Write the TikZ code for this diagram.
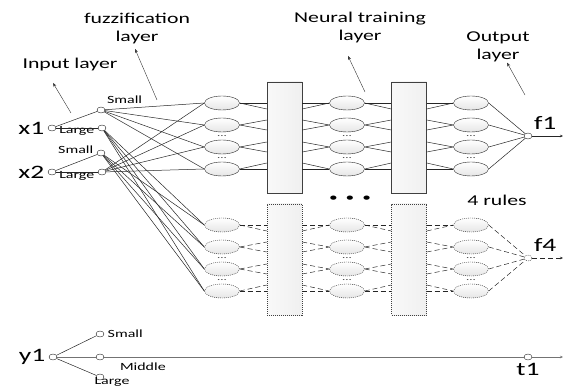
\documentclass[tikz,border=0pt]{standalone}
\usepackage{fontspec}
\setmainfont[FakeStretch=1.45]{Carlito}
\usetikzlibrary{arrows.meta,positioning,calc,shapes.geometric}

\begin{document}
\begin{tikzpicture}[
  x=1pt, y=-1pt,
  mfnode/.style={ellipse, draw=black!85, fill=white, inner sep=0pt,
    minimum width=8pt, minimum height=6pt},
  neuron/.style={ellipse, draw=black!85, top color=white, bottom color=gray!20,
    inner sep=0pt, minimum width=35pt, minimum height=14pt},
  blk/.style={draw=black!75, left color=gray!5, right color=gray!12,
    inner sep=0pt, minimum width=35pt, minimum height=111pt},
  lnk/.style={draw=black!85, line width=0.5pt},
  dsh/.style={dash pattern=on 5pt off 3pt},
  dtt/.style={dash pattern=on 1pt off 1pt},
  ann/.style={-{Stealth[length=4pt,width=3pt]}, draw=black!80},
  io/.style={font=\fontsize{19}{20}\selectfont},
  lay/.style={font=\fontsize{15}{18}\selectfont, align=center},
  mf/.style={font=\fontsize{11}{12}\selectfont},
  dd/.style={font=\fontsize{9}{9}\selectfont, text=black!70, inner sep=0pt},
]
\useasboundingbox (0,0) rectangle (565,390);

% layer captions
\node[lay] (inlay) at (70,65) {Input layer};
\node[lay] (fzlay) at (137,29) {fuzzification\\layer};
\node[lay] (nnlay) at (360,28) {Neural training\\layer};
\node[lay] (outlay) at (498,47) {Output\\layer};
\coordinate (inarr) at (71,113);
\coordinate (fzarr) at (157,100);
\coordinate (nnarr) at (365,92);
\coordinate (outarr) at (525,95);
\draw[ann] (inarr) -- ($(inlay.south)+(-17,8)$);
\draw[ann] (fzarr) -- ($(fzlay.south)+(-2,1)$);
\draw[ann] (nnarr) -- ($(nnlay.south)+(-12,9)$);
\draw[ann] (outarr) -- ($(outlay.south)+(9,-3)$);

% inputs and membership functions
\node[mfnode, label={[io]left:x1}] (x1) at (52,128) {};
\node[mfnode, label={[io]left:x2}] (x2) at (52,172) {};
\node[mfnode, label={[mf]above right:Small}] (s1) at (101,110) {};
\node[mfnode, label={[mf, yshift=-3pt]left:Large}] (l1) at (102,128) {};
\node[mfnode, label={[mf, yshift=3pt]left:Small}] (s2) at (101,153) {};
\node[mfnode, label={[mf, yshift=-4pt]left:Large}] (l2) at (102,172) {};
\draw[lnk] (x1) -- (s1);
\draw[lnk] (x1) -- (l1);
\draw[lnk] (x2) -- (s2);
\draw[lnk] (x2) -- (l2);

% one sub-network per rule (first and last shown)
\foreach \blk/\yo/\lsty/\bsty/\fout in {t/0/solid/solid/f1, b/122/dsh/dtt/f4}{
  \node[blk, \bsty] (r1\blk) at (284.5,137.5+\yo) {};
  \node[blk, \bsty] (r2\blk) at (409,137.5+\yo) {};
  \node[mfnode, \bsty, label={[io]above right:\fout}] (o\blk) at (528,136+\yo) {};
  \coordinate (e\blk) at (563,136+\yo);
  \foreach \i in {1,...,4}{
    \node[neuron, \bsty] (a\blk\i) at (222,81+22*\i+\yo) {};
    \node[neuron, \bsty] (b\blk\i) at (347,81+22*\i+\yo) {};
    \node[neuron, \bsty] (c\blk\i) at (471,81+22*\i+\yo) {};
  }
  \foreach \col in {a,b,c}{
    \node[dd] (d\col\blk1) at ($(\col\blk2)!0.5!(\col\blk3)$) {...};
    \node[dd] (d\col\blk2) at ($(\col\blk3)!0.5!(\col\blk4)$) {...};
  }
  \foreach \i/\p/\q in {1/0/6, 2/-5/5, 3/-5/5, 4/-6/0}{
    \draw[lnk, \lsty] (a\blk\i.east) -- ($(r1\blk.west |- a\blk\i)+(0,\p)$);
    \draw[lnk, \lsty] (a\blk\i.east) -- ($(r1\blk.west |- a\blk\i)+(0,\q)$);
    \draw[lnk, \lsty] ($(r1\blk.east |- b\blk\i)+(0,\p)$) -- (b\blk\i.west);
    \draw[lnk, \lsty] ($(r1\blk.east |- b\blk\i)+(0,\q)$) -- (b\blk\i.west);
    \draw[lnk, \lsty] (b\blk\i.east) -- ($(r2\blk.west |- b\blk\i)+(0,\p)$);
    \draw[lnk, \lsty] (b\blk\i.east) -- ($(r2\blk.west |- b\blk\i)+(0,\q)$);
    \draw[lnk, \lsty] ($(r2\blk.east |- c\blk\i)+(0,\p)$) -- (c\blk\i.west);
    \draw[lnk, \lsty] ($(r2\blk.east |- c\blk\i)+(0,\q)$) -- (c\blk\i.west);
    \draw[lnk, \lsty] (c\blk\i.east) -- (o\blk);
  }
  \draw[lnk, \lsty, -{Stealth[length=3pt,width=2.5pt]}] (o\blk) -- (e\blk);
}

% fuzzified inputs to the rule neurons
\foreach \i in {1,...,4}{
  \draw[lnk] (s1) -- (at\i.west);
  \draw[lnk] (l2) -- (at\i.west);
  \draw[lnk] (l1) -- (ab\i.west);
  \draw[lnk] (s2) -- (ab\i.west);
}

\node[font=\fontsize{12}{12}\selectfont] (more) at (350,199)
  {\textbullet\hspace{8pt}\textbullet\hspace{8pt}\textbullet};
\node[lay] (rules) at (497,200) {4 rules};

% target output
\node[mfnode, label={[io]left:y1}] (y1) at (53,357) {};
\node[mfnode, label={[mf]right:Small}] (ys) at (100,334) {};
\node[mfnode, label={[mf, xshift=14pt]below right:Middle}] (ym) at (100,357) {};
\node[mfnode, label={[mf, xshift=12pt, yshift=6pt]below:Large}] (yl) at (100,377) {};
\node[mfnode, label={[io]below:t1}] (t1) at (528,357) {};
\coordinate (tend) at (563,357);
\draw[lnk] (y1) -- (ys);
\draw[lnk] (y1) -- (yl);
\draw[draw=black!55, line width=1pt] (y1) -- (ym) -- (t1);
\draw[draw=black!55, line width=1pt, -{Stealth[length=3pt,width=2.5pt]}] (t1) -- (tend);
\end{tikzpicture}
\end{document}
